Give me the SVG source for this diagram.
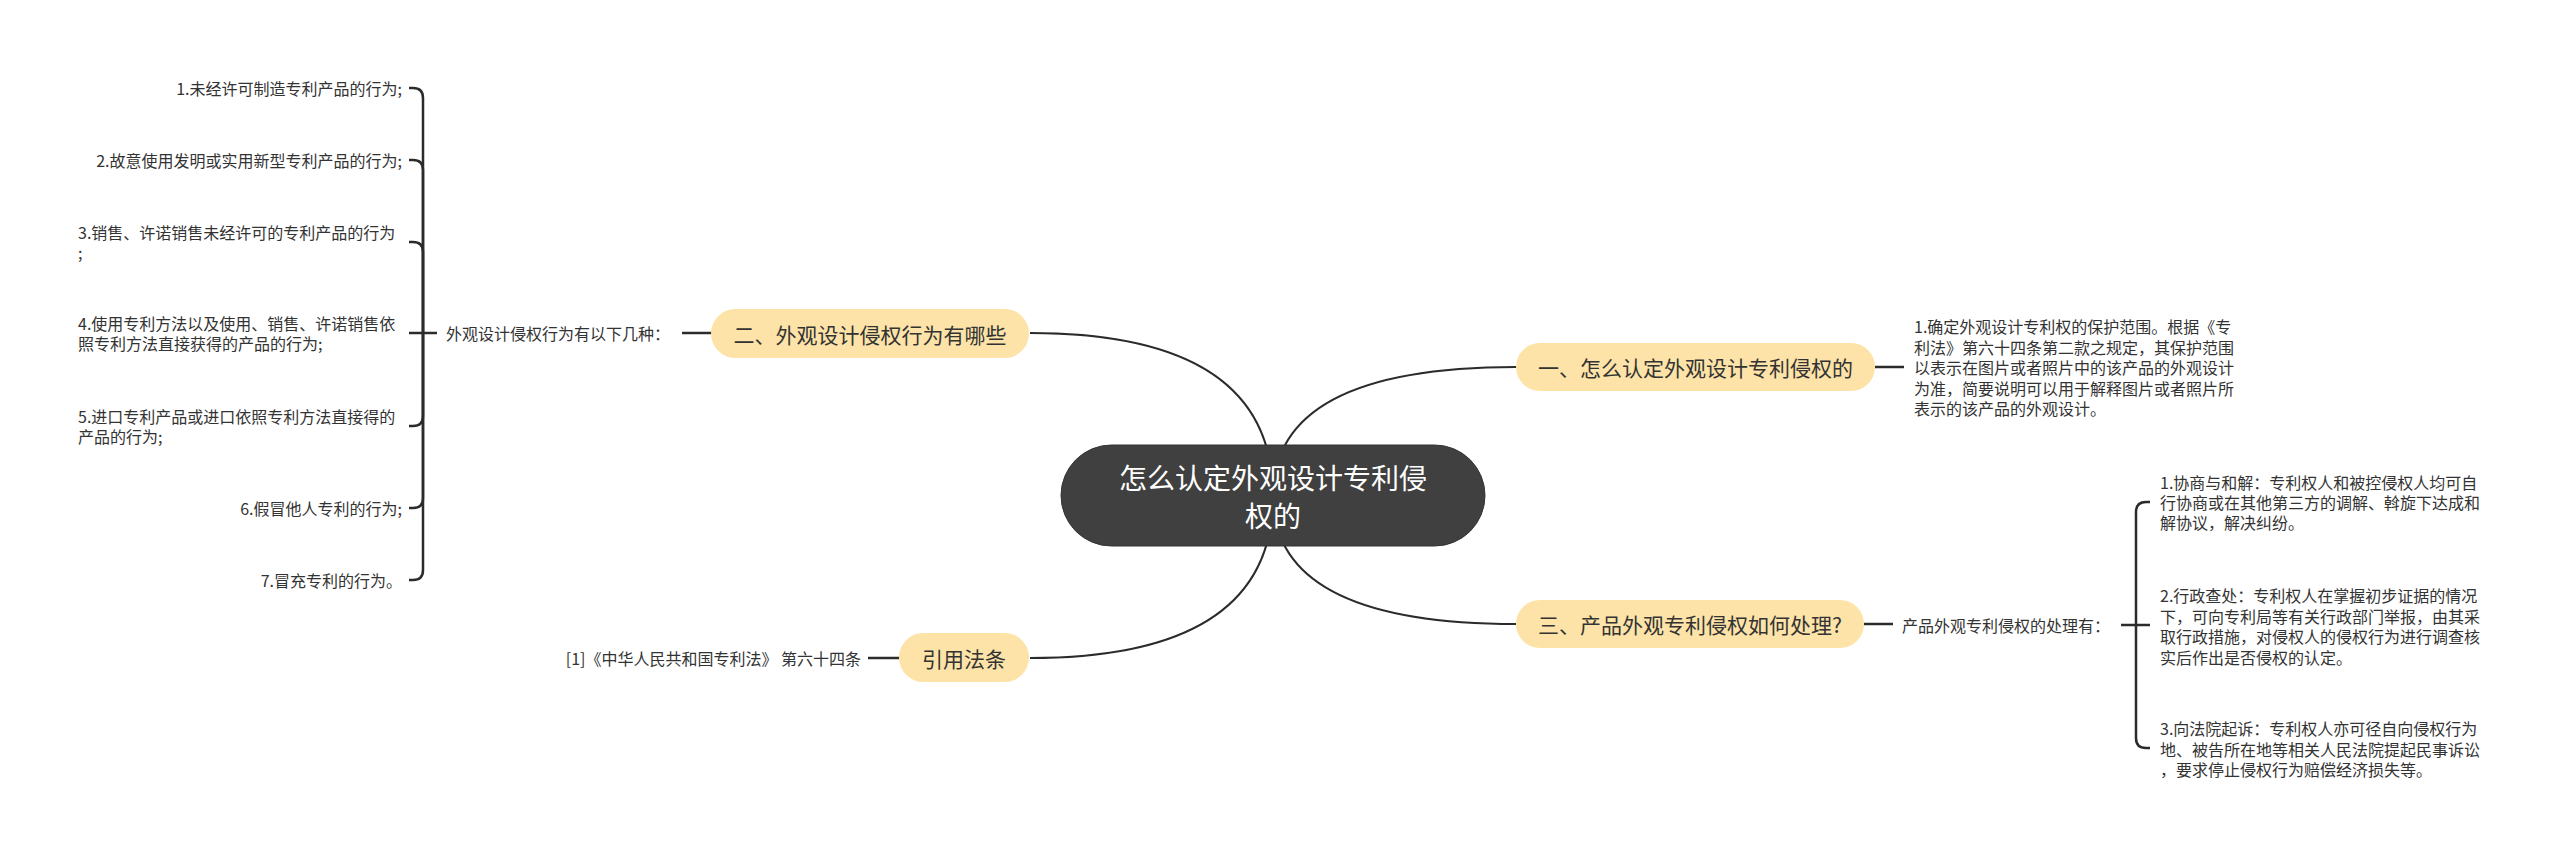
<svg xmlns="http://www.w3.org/2000/svg" width="2560" height="857" viewBox="0 0 2560 857">
<style>
text{font-family:"Noto Sans CJK SC","Microsoft YaHei",sans-serif;dominant-baseline:central;fill:#333}
.s{font-size:16px}
.n{font-size:21px;text-anchor:middle}
.c{font-size:28px;text-anchor:middle;fill:#fff}
.node{fill:#fde3a7}
.curve{fill:none;stroke:#2b2b2b;stroke-width:2}
.br{fill:none;stroke:#2b2b2b;stroke-width:2.5;stroke-linecap:butt}
</style>
<rect width="2560" height="857" fill="#fff"/>
<g id="connectors">
<path class="curve" d="M1030 333 Q1273 333 1273 496"/>
<path class="curve" d="M1030 658 Q1273 658 1273 496"/>
<path class="curve" d="M1516 367 Q1273 367 1273 496"/>
<path class="curve" d="M1516 624 Q1273 624 1273 496"/>
<path class="br" d="M682 333 H712"/>
<path class="br" d="M868 658 H899"/>
<path class="br" d="M1875 367 H1904"/>
<path class="br" d="M1864 624 H1893"/>
<path class="br" d="M409 333 H437"/>
<path class="br" d="M423 333 V98 Q423 88 413 88 H409"/>
<path class="br" d="M423 333 V170 Q423 160 413 160 H409"/>
<path class="br" d="M423 333 V252 Q423 242 413 242 H409"/>
<path class="br" d="M423 333 V416 Q423 426 413 426 H409"/>
<path class="br" d="M423 333 V498 Q423 508 413 508 H409"/>
<path class="br" d="M423 333 V570 Q423 580 413 580 H409"/>
<path class="br" d="M2121 625 H2150"/>
<path class="br" d="M2136 625 V512 Q2136 502 2146 502 H2150"/>
<path class="br" d="M2136 625 V738 Q2136 748 2146 748 H2150"/>
</g>
<g id="root">
<rect x="1061" y="445" width="424" height="101" rx="50.5" fill="#404040" stroke="#333" stroke-width="1"/>
<text class="c"><tspan x="1273" y="477">怎么认定外观设计专利侵</tspan><tspan x="1273" y="515">权的</tspan></text>
</g>
<g id="n1">
<rect class="node" x="1516" y="343" width="359" height="48" rx="24"/>
<text class="n" x="1695.5" y="367">一、怎么认定外观设计专利侵权的</text>
</g>
<g id="n1-1">
<text class="s"><tspan x="1914" y="326">1.确定外观设计专利权的保护范围。根据《专</tspan><tspan x="1914" y="346.5">利法》第六十四条第二款之规定，其保护范围</tspan><tspan x="1914" y="367">以表示在图片或者照片中的该产品的外观设计</tspan><tspan x="1914" y="387.5">为准，简要说明可以用于解释图片或者照片所</tspan><tspan x="1914" y="408">表示的该产品的外观设计。</tspan></text>
</g>
<g id="n2">
<rect class="node" x="711" y="309" width="318" height="49" rx="24.5"/>
<text class="n" x="870" y="333.5">二、外观设计侵权行为有哪些</text>
</g>
<g id="n2-label">
<text class="s" x="446" y="333">外观设计侵权行为有以下几种：</text>
</g>
<g id="n2-items">
<text class="s" x="402" y="88" text-anchor="end">1.未经许可制造专利产品的行为;</text>
<text class="s" x="402" y="160" text-anchor="end">2.故意使用发明或实用新型专利产品的行为;</text>
<text class="s"><tspan x="78" y="232">3.销售、许诺销售未经许可的专利产品的行为</tspan><tspan x="78" y="252">;</tspan></text>
<text class="s"><tspan x="78" y="323">4.使用专利方法以及使用、销售、许诺销售依</tspan><tspan x="78" y="343">照专利方法直接获得的产品的行为;</tspan></text>
<text class="s"><tspan x="78" y="416">5.进口专利产品或进口依照专利方法直接得的</tspan><tspan x="78" y="436">产品的行为;</tspan></text>
<text class="s" x="402" y="508" text-anchor="end">6.假冒他人专利的行为;</text>
<text class="s" x="402" y="580" text-anchor="end">7.冒充专利的行为。</text>
</g>
<g id="n3">
<rect class="node" x="1516" y="600" width="348" height="48" rx="24"/>
<text class="n" x="1690" y="624">三、产品外观专利侵权如何处理?</text>
</g>
<g id="n3-label">
<text class="s" x="1902" y="625">产品外观专利侵权的处理有：</text>
</g>
<g id="n3-items">
<text class="s"><tspan x="2160" y="482">1.协商与和解：专利权人和被控侵权人均可自</tspan><tspan x="2160" y="502">行协商或在其他第三方的调解、斡旋下达成和</tspan><tspan x="2160" y="522">解协议，解决纠纷。</tspan></text>
<text class="s"><tspan x="2160" y="595">2.行政查处：专利权人在掌握初步证据的情况</tspan><tspan x="2160" y="615.5">下，可向专利局等有关行政部门举报，由其采</tspan><tspan x="2160" y="636">取行政措施，对侵权人的侵权行为进行调查核</tspan><tspan x="2160" y="656.5">实后作出是否侵权的认定。</tspan></text>
<text class="s"><tspan x="2160" y="728">3.向法院起诉：专利权人亦可径自向侵权行为</tspan><tspan x="2160" y="748.5">地、被告所在地等相关人民法院提起民事诉讼</tspan><tspan x="2160" y="769">，要求停止侵权行为赔偿经济损失等。</tspan></text>
</g>
<g id="n4">
<rect class="node" x="899" y="633" width="130" height="49" rx="24.5"/>
<text class="n" x="964" y="657.5">引用法条</text>
</g>
<g id="n4-1">
<text class="s" x="861" y="658" text-anchor="end">[1]《中华人民共和国专利法》 第六十四条</text>
</g>
</svg>
